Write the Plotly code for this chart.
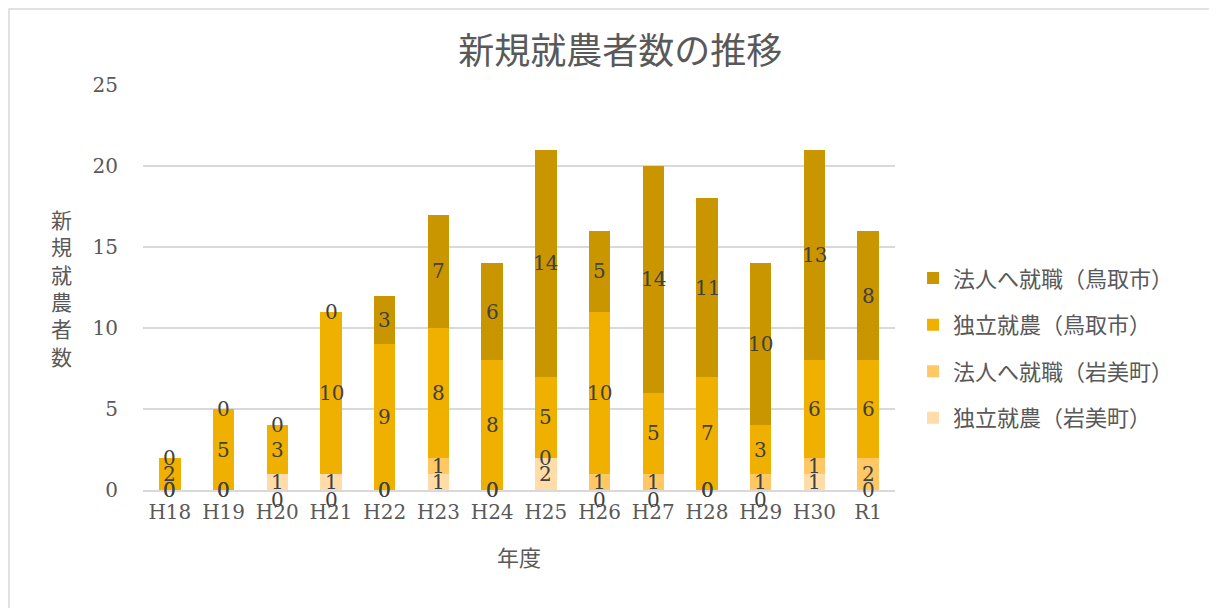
import plotly.graph_objects as go
import numpy as np

years = ["H18", "H19", "H20", "H21", "H22", "H23", "H24", "H25", "H26", "H27", "H28", "H29", "H30", "R1"]

# bottom -> top stacking order
iwami_indep = [0, 0, 1, 1, 0, 1, 0, 2, 0, 0, 0, 0, 1, 0]
iwami_corp = [0, 0, 0, 0, 0, 1, 0, 0, 1, 1, 0, 1, 1, 2]
tottori_indep = [2, 5, 3, 10, 9, 8, 8, 5, 10, 5, 7, 3, 6, 6]
tottori_corp = [0, 0, 0, 0, 3, 7, 6, 14, 5, 14, 11, 10, 13, 8]

series = [
    ("独立就農（岩美町）", iwami_indep, "#FFDCA8"),
    ("法人へ就職（岩美町）", iwami_corp, "#FFC864"),
    ("独立就農（鳥取市）", tottori_indep, "#F0B000"),
    ("法人へ就職（鳥取市）", tottori_corp, "#C99600"),
]

NUM_FONT = "DejaVu Serif, Noto Sans CJK JP"
JP_FONT = "Noto Sans CJK JP"
PX_PER_UNIT = 405 / 25

fig = go.Figure()
base = np.zeros(len(years))
labels = [[] for _ in years]  # per bar: [y, value, yshift]
for i, (name, vals, color) in enumerate(series):
    vals = np.array(vals, dtype=float)
    fig.add_trace(go.Bar(
        x=years, y=vals, name=name, marker=dict(color=color, line=dict(width=0)),
        legendgroup=name, legendrank=len(series) - i, hoverinfo="name+y",
    ))
    for j, v in enumerate(vals):
        labels[j].append([base[j] + v / 2, v, 0])
    base = base + vals

# data labels centred on each segment; a zero label that clashes with a
# neighbour is pushed under the axis, as Excel does
annotations = []
for j, lab in enumerate(labels):
    for a in range(len(lab)):
        for b in range(a + 1, len(lab)):
            d = abs(lab[a][0] - lab[b][0]) * PX_PER_UNIT
            if 0 < d < 14:
                for k in (a, b):
                    if lab[k][1] == 0:
                        lab[k][0], lab[k][2] = 0, -10
    for yc, v, ys in lab:
        annotations.append(dict(
            x=years[j], y=yc, text=str(int(v)), showarrow=False, yshift=ys,
            font=dict(family=NUM_FONT, size=20, color="#404040"),
        ))

annotations.append(dict(
    text="新<br>規<br>就<br>農<br>者<br>数", x=-0.108, y=0.50, xref="paper", yref="paper",
    showarrow=False, font=dict(family=JP_FONT, size=21, color="#595959"),
    xanchor="center", yanchor="middle",
))

fig.update_layout(
    barmode="stack",
    bargap=0.6,
    width=1217, height=608,
    margin=dict(l=135, r=330, t=77, b=126),
    paper_bgcolor="white", plot_bgcolor="white",
    title=dict(text="新規就農者数の推移", x=0.503, xref="container", y=0.928, yref="container",
               xanchor="center", yanchor="middle",
               font=dict(family=JP_FONT, size=36, color="#595959")),
    xaxis=dict(
        tickfont=dict(family=NUM_FONT, size=20, color="#595959"),
        showline=True, linecolor="#D9D9D9", linewidth=2, ticklabelstandoff=3,
        title=dict(text="年度", font=dict(family=JP_FONT, size=22, color="#595959"), standoff=28),
    ),
    yaxis=dict(
        range=[0, 25], dtick=5, tickfont=dict(family=NUM_FONT, size=20, color="#595959"),
        gridcolor="#D9D9D9", gridwidth=2, zeroline=False, ticklabelstandoff=24,
    ),
    legend=dict(
        x=1.024, y=0.35, xanchor="left", yanchor="middle",
        traceorder="grouped", tracegroupgap=15,
        font=dict(family=JP_FONT, size=22, color="#595959"),
    ),
    annotations=annotations,
    shapes=[dict(
        type="rect", xref="paper", yref="paper",
        x0=(9 - 143) / 752, x1=(1210 - 143) / 752, y0=(490 - 640) / 405, y1=(490 - 9) / 405,
        line=dict(color="#D9D9D9", width=1.5), layer="below",
    )],
)

fig.write_html("out.html")
